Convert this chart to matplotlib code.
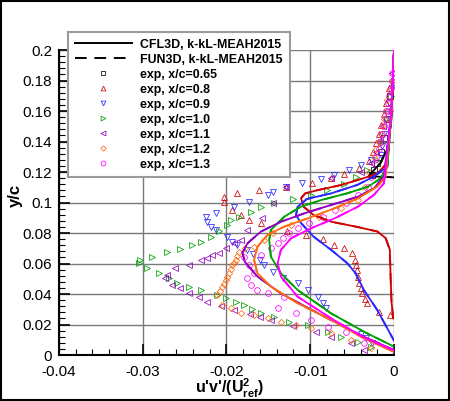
import numpy as np
import matplotlib
matplotlib.use('Agg')
import matplotlib.pyplot as plt
from matplotlib.lines import Line2D
from matplotlib.ticker import MultipleLocator, FuncFormatter

plt.rcParams['font.family'] = ['Liberation Sans', 'DejaVu Sans']
plt.rcParams['mathtext.fontset'] = 'custom'
plt.rcParams['mathtext.rm'] = 'Liberation Sans'
plt.rcParams['mathtext.bf'] = 'Liberation Sans:bold'

# ---- experimental data: u'v'/Uref^2 (x) vs y/c (y) ----
exp_065_x = [-0.0005, -0.0008, -0.0012, -0.0016, -0.002, -0.0024, -0.0026]
exp_065_y = [0.17, 0.155, 0.142, 0.133, 0.126, 0.121, 0.118]

exp_080_x = [-0.0006, -0.0009, -0.0012, -0.0015, -0.0018, -0.0021, -0.0025, -0.003, -0.0042, -0.006,
             -0.0075, -0.0098, -0.0129, -0.0161, -0.0187, -0.0203, -0.0203, -0.0193, -0.0183, -0.0173,
             -0.0159, -0.0128, -0.0105, -0.0085, -0.0072, -0.006, -0.005, -0.0046, -0.0045, -0.0044,
             -0.0043, -0.0042, -0.004, -0.0038, -0.0035, -0.0032, -0.0018, -0.0005]
exp_080_y = [0.175, 0.165, 0.158, 0.151, 0.145, 0.139, 0.133, 0.127, 0.1226, 0.119,
             0.116, 0.1128, 0.110, 0.1082, 0.106, 0.1038, 0.1006, 0.095, 0.0918, 0.0885,
             0.0863, 0.081, 0.0787, 0.0759, 0.072, 0.070, 0.0668, 0.062, 0.059, 0.0557,
             0.051, 0.047, 0.044, 0.0407, 0.037, 0.034, 0.028, 0.026]

exp_090_x = [-0.0003, -0.0006, -0.0009, -0.0012, -0.0014, -0.0016, -0.0028, -0.004, -0.0054, -0.0072,
             -0.0087, -0.011, -0.0129, -0.0145, -0.0151, -0.0173, -0.0191, -0.0213, -0.0225, -0.0223,
             -0.0219, -0.0213, -0.0199, -0.0193, -0.0187, -0.0175, -0.0168, -0.016, -0.0155, -0.0145,
             -0.0133, -0.0115, -0.0103, -0.0091, -0.0085, -0.0081, -0.004, -0.0034, -0.0026]
exp_090_y = [0.175, 0.165, 0.155, 0.145, 0.137, 0.131, 0.128, 0.1246, 0.1213, 0.118,
             0.1151, 0.1125, 0.1104, 0.1071, 0.1049, 0.1006, 0.0973, 0.0929, 0.0907, 0.0874,
             0.0842, 0.082, 0.0776, 0.0743, 0.0721, 0.0689, 0.066, 0.0625, 0.059, 0.0546,
             0.0505, 0.047, 0.0426, 0.0382, 0.034, 0.031, 0.014, 0.011, 0.0079]

exp_100_x = [-0.0004, -0.0008, -0.0013, -0.002, -0.0032, -0.0045, -0.006, -0.008, -0.0099, -0.0121,
             -0.0143, -0.0159, -0.0171, -0.0185, -0.0195, -0.0199, -0.0209, -0.0219, -0.0231, -0.0241,
             -0.0255, -0.0271, -0.0289, -0.0303, -0.0305, -0.0295, -0.0281, -0.0269, -0.0259, -0.0245,
             -0.0231, -0.0211, -0.0201, -0.0189, -0.0179, -0.017, -0.0159, -0.0143, -0.0125, -0.0103,
             -0.0079, -0.0063, -0.0043, -0.0028]
exp_100_y = [0.17, 0.155, 0.14, 0.128, 0.121, 0.117, 0.112, 0.108, 0.105, 0.1022,
             0.0995, 0.0968, 0.094, 0.0907, 0.0885, 0.0852, 0.081, 0.0776, 0.0743, 0.0721,
             0.0692, 0.0678, 0.0645, 0.0623, 0.0601, 0.0568, 0.0535, 0.0503, 0.047, 0.0448,
             0.0426, 0.0393, 0.0372, 0.035, 0.0328, 0.030, 0.0273, 0.0251, 0.0219, 0.0197,
             0.0153, 0.012, 0.0087, 0.0055]

exp_110_x = [-0.0002, -0.0005, -0.0009, -0.0013, -0.0017, -0.0022, -0.0028, -0.004, -0.0075, -0.0129,
             -0.0145, -0.0158, -0.0175, -0.0183, -0.0191, -0.0201, -0.0209, -0.0217, -0.0223, -0.0231,
             -0.0245, -0.0261, -0.0271, -0.0273, -0.0265, -0.0255, -0.0245, -0.0233, -0.0223, -0.0207,
             -0.0191, -0.0172, -0.016, -0.0147, -0.012, -0.0093, -0.0075, -0.0051, -0.0036]
exp_110_y = [0.185, 0.172, 0.16, 0.15, 0.141, 0.133, 0.126, 0.12, 0.116, 0.1104,
             0.1, 0.09, 0.082, 0.0754, 0.0732, 0.07, 0.0667, 0.0656, 0.0634, 0.0623,
             0.059, 0.0568, 0.0525, 0.0503, 0.0459, 0.0437, 0.0404, 0.0382, 0.035, 0.032,
             0.0295, 0.027, 0.025, 0.023, 0.019, 0.0153, 0.012, 0.0077, 0.0033]

exp_120_x = [-0.0003, -0.0005, -0.0008, -0.001, -0.0012, -0.0014, -0.0016, -0.0018, -0.0021, -0.0024,
             -0.003, -0.0035, -0.0043, -0.0063, -0.0089, -0.0123, -0.0145, -0.0155, -0.0167, -0.0178,
             -0.0185, -0.0187, -0.0189, -0.0191, -0.0193, -0.0195, -0.0197, -0.0199, -0.0201, -0.0203,
             -0.0205, -0.0208, -0.0211, -0.0205, -0.0195, -0.0183, -0.0167, -0.015, -0.0135, -0.0117,
             -0.0099, -0.0075, -0.0051, -0.0028]
exp_120_y = [0.18, 0.174, 0.167, 0.16, 0.155, 0.15, 0.145, 0.14, 0.135, 0.13,
             0.12, 0.11, 0.1016, 0.0962, 0.0907, 0.0852, 0.080, 0.0754, 0.071, 0.070,
             0.0678, 0.065, 0.0623, 0.0605, 0.059, 0.0565, 0.0535, 0.051, 0.0492, 0.0465,
             0.0448, 0.042, 0.0393, 0.0328, 0.0306, 0.0273, 0.0262, 0.024, 0.0219, 0.0197,
             0.0175, 0.0142, 0.0098, 0.0044]

exp_130_x = [-0.0002, -0.0003, -0.0004, -0.0006, -0.0007, -0.0009, -0.001, -0.0012, -0.0014, -0.0016,
             -0.0018, -0.0021, -0.0023, -0.0027, -0.0031, -0.0043, -0.0057, -0.0071, -0.0085, -0.0101,
             -0.0115, -0.0125, -0.0133, -0.0139, -0.0147, -0.0159, -0.0179, -0.0173, -0.0167, -0.0175,
             -0.0171, -0.0163, -0.0151, -0.0131, -0.0139, -0.0117, -0.0099, -0.0079, -0.0057, -0.0036]
exp_130_y = [0.185, 0.18, 0.175, 0.17, 0.165, 0.16, 0.155, 0.15, 0.145, 0.14,
             0.135, 0.13, 0.125, 0.117, 0.1104, 0.105, 0.0995, 0.0951, 0.0907, 0.0863,
             0.0831, 0.0798, 0.0765, 0.0732, 0.070, 0.0656, 0.0645, 0.059, 0.0535, 0.0503,
             0.0459, 0.0426, 0.0404, 0.0382, 0.0306, 0.0273, 0.023, 0.0186, 0.0153, 0.0077]

# ---- CFD profiles (CFL3D and FUN3D lie on top of each other) ----
cfd_065_x = [0, -0.0003, -0.0008, -0.0016, -0.0026, -0.003, 0]
cfd_065_y = [0.2, 0.155, 0.135, 0.126, 0.12, 0.1172, 0.1165]

cfd_080_x = [0, -0.0003, -0.0008, -0.002, -0.0036, -0.0063, -0.0092, -0.0106, -0.0111, -0.0108,
             -0.0096, -0.0075, -0.0044, -0.002, -0.001, -0.0005, -0.0004, -0.0003, -0.0001]
cfd_080_y = [0.2, 0.16, 0.126, 0.119, 0.116, 0.1115, 0.108, 0.106, 0.1028, 0.0973,
             0.0918, 0.0874, 0.084, 0.081, 0.0767, 0.069, 0.05, 0.035, 0.024]

cfd_090_x = [0, -0.0003, -0.0008, -0.0024, -0.0044, -0.0075, -0.0104, -0.0115, -0.0117, -0.0111,
             -0.0096, -0.0075, -0.0056, -0.0046, -0.0036, -0.002, 0]
cfd_090_y = [0.2, 0.16, 0.1235, 0.117, 0.1115, 0.106, 0.1023, 0.0973, 0.0918, 0.0865,
             0.0776, 0.0689, 0.0603, 0.0537, 0.0426, 0.0295, 0.0094]

cfd_100_x = [0, -0.0003, -0.0008, -0.0016, -0.0031, -0.0056, -0.0087, -0.0111, -0.0131, -0.0147,
             -0.0149, -0.0147, -0.0135, -0.0115, -0.0075, -0.0036, 0]
cfd_100_y = [0.2, 0.16, 0.1235, 0.1158, 0.1104, 0.106, 0.1016, 0.0973, 0.0907, 0.082,
             0.0754, 0.0645, 0.0535, 0.0426, 0.0273, 0.0153, 0.0055]

cfd_110_x = [0, -0.0003, -0.0012, -0.0024, -0.0043, -0.0075, -0.0107, -0.0135, -0.0159, -0.0175,
             -0.0181, -0.0178, -0.0163, -0.0135, -0.0083, -0.0036, 0]
cfd_110_y = [0.2, 0.16, 0.117, 0.1093, 0.1038, 0.0984, 0.0929, 0.0874, 0.0809, 0.0732,
             0.067, 0.061, 0.0514, 0.0404, 0.0251, 0.012, 0.0033]

cfd_120_x = [0, -0.0003, -0.001, -0.002, -0.0043, -0.0071, -0.0103, -0.0131, -0.0151, -0.0163,
             -0.0167, -0.0163, -0.0147, -0.0115, -0.0075, -0.0036, 0]
cfd_120_y = [0.2, 0.16, 0.117, 0.1104, 0.1027, 0.0962, 0.0896, 0.0842, 0.0787, 0.071,
             0.0623, 0.0535, 0.0448, 0.0339, 0.023, 0.0109, 0.002]

cfd_130_x = [0, -0.0003, -0.0012, -0.0024, -0.0043, -0.0071, -0.0099, -0.0123, -0.0135, -0.0139,
             -0.0135, -0.0115, -0.0075, -0.0036, 0]
cfd_130_y = [0.2, 0.16, 0.1126, 0.105, 0.0973, 0.0896, 0.0831, 0.0765, 0.0689, 0.06,
             0.0514, 0.0382, 0.024, 0.0115, 0.003]

stations = ['0.65', '0.8', '0.9', '1.0', '1.1', '1.2', '1.3']
colors = ['black', '#d00000', '#2828ff', '#00a000', '#9000c0', '#ff6a10', '#ff00ff']
markers = ['s', '^', 'v', '>', '<', 'D', 'o']
exp_x = [exp_065_x, exp_080_x, exp_090_x, exp_100_x, exp_110_x, exp_120_x, exp_130_x]
exp_y = [exp_065_y, exp_080_y, exp_090_y, exp_100_y, exp_110_y, exp_120_y, exp_130_y]
cfd_x = [cfd_065_x, cfd_080_x, cfd_090_x, cfd_100_x, cfd_110_x, cfd_120_x, cfd_130_x]
cfd_y = [cfd_065_y, cfd_080_y, cfd_090_y, cfd_100_y, cfd_110_y, cfd_120_y, cfd_130_y]

fig = plt.figure(figsize=(4.5, 4.01), dpi=100)
ax = fig.add_axes([0.131, 0.1147, 0.7446, 0.7606])


def msize(m):
    return 3.2 if m == 'D' else 4.1


for i in range(len(stations)):
    ax.plot(exp_x[i], exp_y[i], linestyle='none', marker=markers[i], ms=msize(markers[i]),
            mfc='none', mec=colors[i], mew=0.55, zorder=3)
for i in range(len(stations)):
    ax.plot(cfd_x[i], cfd_y[i], '-', color=colors[i], lw=1.3, zorder=4)
    ax.plot(cfd_x[i], cfd_y[i], '--', color=colors[i], lw=1.3, dashes=(6, 4), zorder=4)

ax.set_xlim(-0.04, 0)
ax.set_ylim(0, 0.2)
ax.xaxis.set_major_locator(MultipleLocator(0.01))
ax.xaxis.set_minor_locator(MultipleLocator(0.002))
ax.yaxis.set_major_locator(MultipleLocator(0.02))
ax.yaxis.set_minor_locator(MultipleLocator(0.004))
fmt = FuncFormatter(lambda v, p: '0' if abs(v) < 1e-12 else ('%g' % v))
ax.xaxis.set_major_formatter(fmt)
ax.yaxis.set_major_formatter(fmt)
ax.tick_params(which='both', direction='in', top=False, right=False, labelsize=11, color='black')
ax.tick_params(which='major', length=8, width=1.2)
ax.tick_params(which='minor', length=4, width=0.8)
ax.tick_params(axis='x', pad=7)
ax.tick_params(axis='y', pad=5)
ax.grid(True, which='major', color='#7a7a7a', lw=1.0)
ax.set_axisbelow(True)
for s in ['top', 'right']:
    ax.spines[s].set_visible(False)
for s in ['left', 'bottom']:
    ax.spines[s].set_linewidth(1.5)

fig.text(230 / 450, 1 - 394 / 401, r"u'v'/(U$_{\mathbf{ref}}^{\mathbf{2}}$)", fontsize=11.5,
         fontweight='bold', ha='center', va='baseline')
fig.text(15 / 450, 1 - 195 / 401, 'y/c', fontsize=12, fontweight='bold', rotation=90,
         ha='center', va='center')

handles = [Line2D([], [], color='black', lw=1.4),
           Line2D([], [], color='black', lw=1.4, ls='--', dashes=(6, 4))]
for i in range(len(stations)):
    handles.append(Line2D([], [], ls='none', marker=markers[i], ms=msize(markers[i]) * 0.85,
                          mfc='none', mec=colors[i], mew=0.55))
labels = ['CFL3D, k-kL-MEAH2015', 'FUN3D, k-kL-MEAH2015'] + ['exp, x/c=' + s for s in stations]
leg = fig.legend(handles, labels, loc='upper left', bbox_to_anchor=(68 / 450, 1 - 32 / 401),
                 bbox_transform=fig.transFigure, handlelength=4.6, borderaxespad=0,
                 handletextpad=0.7, labelspacing=0.24, borderpad=0.55, fancybox=False,
                 framealpha=1, edgecolor='#9a9a9a', prop={'weight': 'bold', 'size': 8.9})
leg.get_frame().set_linewidth(1.5)
leg.set_zorder(10)

fig.patches.append(plt.Rectangle((0.002, 0.002), 0.996, 0.996, transform=fig.transFigure,
                                 fill=False, ec='black', lw=1.5))

fig.savefig('out.png', dpi=100)
